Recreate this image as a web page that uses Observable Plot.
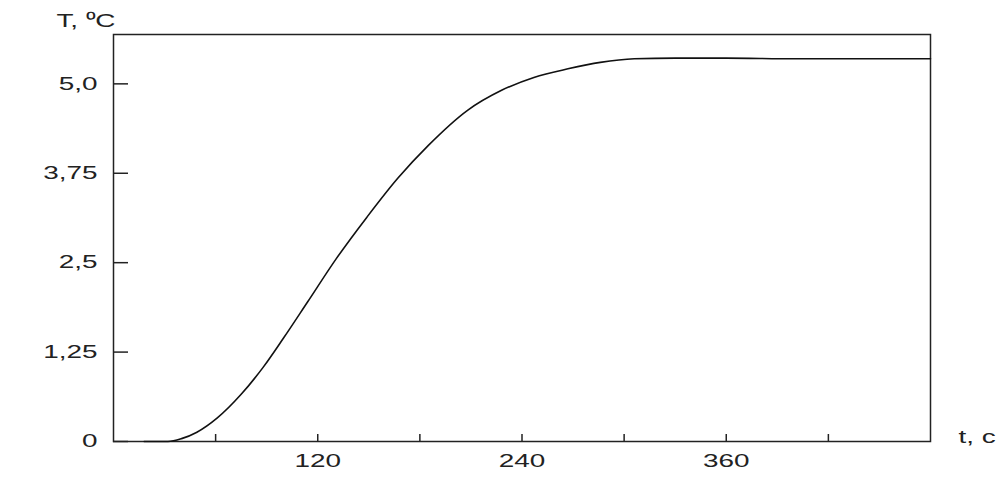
<!DOCTYPE html>
<html>
<head>
<meta charset="utf-8">
<script src="https://cdn.jsdelivr.net/npm/d3@7"></script>
<script src="https://cdn.jsdelivr.net/npm/@observablehq/plot@0.6"></script>
<style>
  html, body { margin: 0; padding: 0; background: #fff; }
  #chart { width: 1003px; height: 477px; }
</style>
</head>
<body>
<div id="chart"></div>
<script>
// Time, s
const time = [18, 32, 40, 49, 61, 75, 88, 100, 114, 131, 149, 167, 185, 208, 228, 247, 267, 286, 306, 330, 360, 400, 440, 480];
// Temperature, °C
const temp = [0, 0, 0.04, 0.13, 0.33, 0.66, 1.04, 1.45, 1.95, 2.56, 3.14, 3.68, 4.14, 4.63, 4.91, 5.09, 5.21, 5.30, 5.35, 5.36, 5.36, 5.35, 5.35, 5.35];

const xTicks = [60, 120, 180, 240, 300, 360, 420];
const xLabelTicks = [120, 240, 360];
const yTicks = [0, 1.25, 2.5, 3.75, 5.0];
const yTickLabels = ["0", "1,25", "2,5", "3,75", "5,0"];
const yAxisTitle = "T, \u2070C";
const xAxisTitle = "t, c";

const data = time.map((t, i) => ({t, T: temp[i]}));
const ink = "#222";

const W = 1003, H = 477, mL = 113, mR = 73, mT = 34, mB = 36;
const frameW = W - mL - mR, frameH = H - mT - mB;

const svg = Plot.plot({
  width: W,
  height: H,
  marginLeft: mL,
  marginRight: mR,
  marginTop: mT,
  marginBottom: mB,
  style: {fontFamily: "'Liberation Sans', Arial, sans-serif", fontSize: "18px", color: ink, background: "#fff"},
  x: {domain: [0, 480]},
  y: {domain: [0, 5.69]},
  marks: [
    Plot.frame({stroke: ink, strokeWidth: 1.5}),
    // inward ticks (short segments from the frame edge)
    Plot.tickY(yTicks, {y: (d) => d, insetRight: frameW - 15, stroke: ink, strokeWidth: 1.5}),
    Plot.tickX(xTicks, {x: (d) => d, insetTop: frameH - 7, stroke: ink, strokeWidth: 1.5}),
    // tick labels
    Plot.axisY({ticks: yTicks, tickSize: 0, tickPadding: 16, tickFormat: (d) => yTickLabels[yTicks.indexOf(d)], label: null, fill: ink}),
    Plot.axisX({ticks: xLabelTicks, tickSize: 0, tickPadding: 13, label: null, fill: ink}),
    Plot.line(data, {x: "t", y: "T", curve: "monotone-x", stroke: "#111", strokeWidth: 1.6}),
    Plot.text([yAxisTitle], {frameAnchor: "top-left", textAnchor: "end", lineAnchor: "middle", dx: 2, dy: -13, fill: ink}),
    Plot.text([xAxisTitle], {frameAnchor: "bottom-right", textAnchor: "start", lineAnchor: "middle", dx: 28, dy: -4, fill: ink})
  ]
});

// the reference lettering is horizontally stretched
const sx = 1.55;
d3.select(svg).selectAll("text").each(function () {
  const el = d3.select(this);
  const x = +(el.attr("x") || 0);
  const y = +(el.attr("y") || 0) || 0;
  const t0 = el.attr("transform") || "";
  el.attr("transform", `${t0} translate(${x},${y}) scale(${sx},1) translate(${-x},${-y})`);
});

document.getElementById("chart").appendChild(svg);
</script>
</body>
</html>
